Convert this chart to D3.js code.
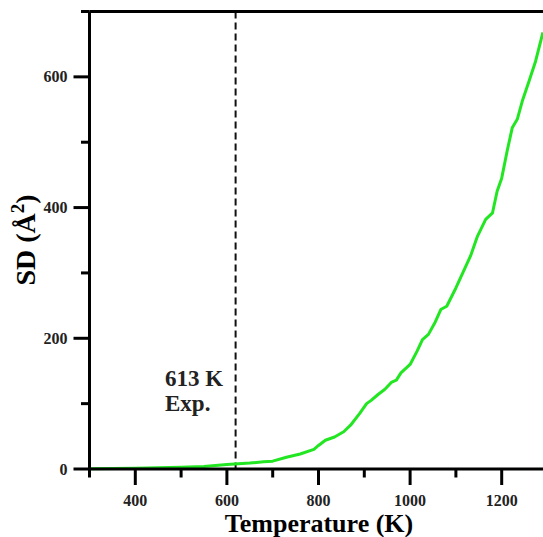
<!DOCTYPE html>
<html><head><meta charset="utf-8">
<script src="https://cdn.jsdelivr.net/npm/d3@7"></script>
<style>body{margin:0;background:#fff}svg{display:block}</style>
</head><body>
<svg id="c" width="543" height="537"></svg>
<script>
const temperature = [300,400,500,550,600,650,680,700,730,760,790,800,815,835,855,870,890,905,915,930,945,960,970,980,1000,1015,1027,1040,1055,1067,1080,1100,1115,1132,1147,1165,1180,1190,1200,1212,1223,1234,1245,1260,1274,1290];
const sd =          [0.5,1,2.5,4,7,9,11,12,18,23,30,36,44,49,57,67,85,100,105,114,122,133,136,147,160,180,198,206,225,244,249,277,300,326,356,382,392,425,445,487,522,535,563,594,624,668];
const xTicks = [400,600,800,1000,1200];
const xMinor = [300,500,700,900,1100,1300];
const yTicks = [0,200,400,600];
const yMinor = [100,300,500,700];
const expLineT = 619;
const expLabel = ["613 K","Exp."];

const svg = d3.select("#c");
const x = d3.scaleLinear().domain([300,1300]).range([89.5,547.5]);
const y = d3.scaleLinear().domain([0,700]).range([469,11.5]);
const font = "'Liberation Serif','Times New Roman',serif";
const AX = 3;

// dashed experimental line
svg.append("line").attr("x1",x(expLineT)).attr("x2",x(expLineT)).attr("y1",y(700)).attr("y2",y(0))
  .attr("stroke","#111").attr("stroke-width",2).attr("stroke-dasharray","7,4");

// curve
svg.append("path").datum(temperature.map((t,i)=>[t,sd[i]]))
  .attr("fill","none").attr("stroke","#22e622").attr("stroke-width",3).attr("stroke-linejoin","round")
  .attr("d", d3.line().x(d=>x(d[0])).y(d=>y(d[1])));

// frame lines
const frame = svg.append("g").attr("stroke","#000").attr("stroke-width",AX);
frame.append("line").attr("x1",x(300)).attr("x2",x(1300)).attr("y1",y(0)).attr("y2",y(0));
frame.append("line").attr("x1",x(300)).attr("x2",x(300)).attr("y1",y(0)).attr("y2",y(700));
frame.append("line").attr("x1",x(300)).attr("x2",x(1300)).attr("y1",y(700)).attr("y2",y(700));
frame.append("line").attr("x1",x(1300)).attr("x2",x(1300)).attr("y1",y(0)).attr("y2",y(700));

// ticks
const tk = svg.append("g").attr("stroke","#000").attr("stroke-width",AX);
tk.selectAll(".xM").data(xTicks).join("line").attr("x1",d=>x(d)).attr("x2",d=>x(d)).attr("y1",y(0)).attr("y2",y(0)+16);
tk.selectAll(".xm").data(xMinor).join("line").attr("x1",d=>x(d)).attr("x2",d=>x(d)).attr("y1",y(0)).attr("y2",y(0)+8.5);
tk.selectAll(".yM").data(yTicks).join("line").attr("x1",x(300)-16).attr("x2",x(300)).attr("y1",d=>y(d)).attr("y2",d=>y(d));
tk.selectAll(".ym").data(yMinor).join("line").attr("x1",x(300)-8.5).attr("x2",x(300)).attr("y1",d=>y(d)).attr("y2",d=>y(d));

// tick labels
svg.append("g").selectAll("text").data(xTicks).join("text")
  .attr("x",d=>x(d)).attr("y",y(0)+37).attr("text-anchor","middle")
  .attr("font-family",font).attr("font-weight","bold").attr("font-size",16).attr("fill","#222").text(d=>d);
svg.append("g").selectAll("text").data(yTicks).join("text")
  .attr("x",x(300)-22).attr("y",d=>y(d)+5.5).attr("text-anchor","end")
  .attr("font-family",font).attr("font-weight","bold").attr("font-size",16).attr("fill","#222").text(d=>d);

// axis titles
svg.append("text").attr("x",319).attr("y",532).attr("text-anchor","middle")
  .attr("font-family",font).attr("font-weight","bold").attr("font-size",26).text("Temperature (K)");
const yt = svg.append("text").attr("transform","translate(35,240) rotate(-90)").attr("text-anchor","middle")
  .attr("font-family",font).attr("font-weight","bold").attr("font-size",28);
yt.append("tspan").text("SD (Å");
yt.append("tspan").attr("dy",-11).attr("font-size",19).text("2");
yt.append("tspan").attr("dy",11).text(")");

// annotation
svg.append("text").attr("x",165).attr("y",386).attr("font-family",font).attr("font-weight","bold").attr("font-size",23).attr("fill","#222").text(expLabel[0]);
svg.append("text").attr("x",165).attr("y",411).attr("font-family",font).attr("font-weight","bold").attr("font-size",23).attr("fill","#222").text(expLabel[1]);
</script>
</body></html>
